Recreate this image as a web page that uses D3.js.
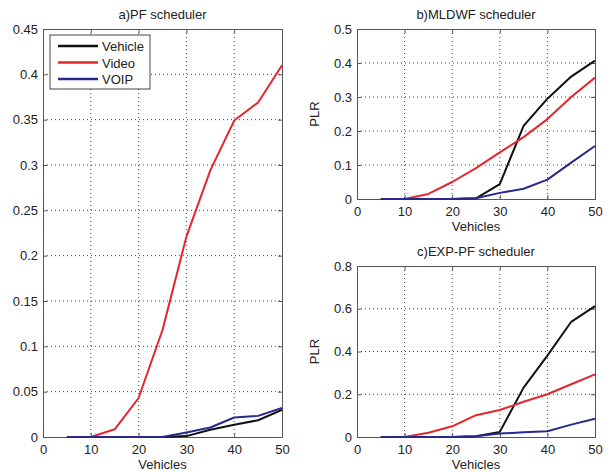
<!DOCTYPE html>
<html>
<head>
<meta charset="utf-8">
<script src="https://cdn.jsdelivr.net/npm/d3@7"></script>
<style>
  body { margin: 0; background: #fff; }
  text { font-family: "Liberation Sans", Arial, sans-serif; fill: #222; }
</style>
</head>
<body>
<svg id="chart" width="611" height="472"></svg>
<script>
// vehicles on the x axis
const vehicles = [5, 10, 15, 20, 25, 30, 35, 40, 45, 50];
const seriesNames = ['Vehicle', 'Video', 'VOIP'];
const seriesColors = ['#111111', '#e3262c', '#28288e'];

// a) PF scheduler
const pfVehicle = [0, 0, 0, 0, 0, 0.001, 0.008, 0.0135, 0.0185, 0.030];
const pfVideo = [0, 0, 0.0085, 0.043, 0.118, 0.221, 0.294, 0.349, 0.369, 0.41];
const pfVoip = [0, 0, 0, 0, 0, 0.005, 0.0105, 0.0215, 0.0233, 0.032];
const pfTicks = [0, 0.05, 0.1, 0.15, 0.2, 0.25, 0.3, 0.35, 0.4, 0.45];

// b) MLDWF scheduler
const mlVehicle = [0, 0, 0, 0, 0.002, 0.044, 0.215, 0.295, 0.36, 0.407];
const mlVideo = [0, 0, 0.015, 0.05, 0.091, 0.137, 0.182, 0.235, 0.3, 0.357];
const mlVoip = [0, 0, 0, 0, 0.002, 0.018, 0.03, 0.057, 0.107, 0.156];
const mlTicks = [0, 0.1, 0.2, 0.3, 0.4, 0.5];

// c) EXP-PF scheduler
const expVehicle = [0, 0, 0, 0, 0.004, 0.024, 0.231, 0.381, 0.539, 0.612];
const expVideo = [0, 0, 0.02, 0.05, 0.102, 0.126, 0.165, 0.2, 0.247, 0.293];
const expVoip = [0, 0, 0, 0, 0.004, 0.016, 0.022, 0.027, 0.058, 0.085];
const expTicks = [0, 0.2, 0.4, 0.6, 0.8];

const xTicks = [0, 10, 20, 30, 40, 50];

const svg = d3.select('#chart');

function drawPanel(opts) {
    const { left, right, top, bottom, yMax, yTicks, series, title, yLabel, legend } = opts;
    const x = d3.scaleLinear().domain([0, 50]).range([left, right]);
    const y = d3.scaleLinear().domain([0, yMax]).range([bottom, top]);
    const g = svg.append('g');

    // dotted grid
    g.selectAll('.gx')
        .data(xTicks.slice(1, -1))
        .enter()
        .append('line')
        .attr('x1', (d) => x(d)).attr('x2', (d) => x(d))
        .attr('y1', top).attr('y2', bottom)
        .attr('stroke', '#444').attr('stroke-width', 1).attr('stroke-dasharray', '1,3');
    g.selectAll('.gy')
        .data(yTicks.slice(1, -1))
        .enter()
        .append('line')
        .attr('x1', left).attr('x2', right)
        .attr('y1', (d) => y(d)).attr('y2', (d) => y(d))
        .attr('stroke', '#444').attr('stroke-width', 1).attr('stroke-dasharray', '1,3');

    // axes (ticks inside, like matlab)
    const xAxis = g.append('g')
        .attr('transform', `translate(0,${bottom})`)
        .call(d3.axisBottom(x).tickValues(xTicks).tickSize(-4).tickPadding(8).tickFormat(d3.format('d')));
    const yAxis = g.append('g')
        .attr('transform', `translate(${left},0)`)
        .call(d3.axisLeft(y).tickValues(yTicks).tickSize(-4).tickPadding(5).tickFormat((d) => d3.format('~g')(+d.toFixed(2))));
    g.append('g')
        .attr('transform', `translate(0,${top})`)
        .call(d3.axisTop(x).tickValues(xTicks).tickSize(-4).tickFormat(''));
    g.append('g')
        .attr('transform', `translate(${right},0)`)
        .call(d3.axisRight(y).tickValues(yTicks).tickSize(-4).tickFormat(''));
    g.selectAll('.domain').attr('stroke', '#555');
    g.selectAll('.tick line').attr('stroke', '#555');
    g.selectAll('.tick text').style('font-size', '13px').attr('fill', '#222');

    const line = d3.line()
        .x((d, i) => x(vehicles[i]))
        .y((d) => y(d));

    series.forEach((s, i) => {
        g.append('path')
            .datum(s)
            .attr('fill', 'none')
            .attr('stroke', seriesColors[i])
            .attr('stroke-width', 2)
            .attr('stroke-linejoin', 'round')
            .attr('d', line);
    });

    g.append('text')
        .attr('x', (left + right) / 2)
        .attr('y', top - 10)
        .attr('text-anchor', 'middle')
        .style('font-size', '13px')
        .text(title);

    g.append('text')
        .attr('x', (left + right) / 2)
        .attr('y', bottom + 32)
        .attr('text-anchor', 'middle')
        .style('font-size', '13px')
        .text('Vehicles');

    if (yLabel) {
        g.append('text')
            .attr('transform', `translate(${left - 38},${(top + bottom) / 2}) rotate(-90)`)
            .attr('text-anchor', 'middle')
            .style('font-size', '13px')
            .text(yLabel);
    }

    if (legend) {
        const lg = g.append('g');
        lg.append('rect')
            .attr('x', 50).attr('y', 35).attr('width', 100).attr('height', 54)
            .attr('fill', '#fff').attr('stroke', '#444').attr('stroke-width', 1);
        seriesNames.forEach((name, i) => {
            const yy = 46 + i * 16.5;
            lg.append('line')
                .attr('x1', 58).attr('x2', 98)
                .attr('y1', yy).attr('y2', yy)
                .attr('stroke', seriesColors[i]).attr('stroke-width', 2.5);
            lg.append('text')
                .attr('x', 102).attr('y', yy + 5)
                .style('font-size', '13px')
                .text(name);
        });
    }
}

drawPanel({
    left: 43, right: 282, top: 29, bottom: 437, yMax: 0.45, yTicks: pfTicks,
    series: [pfVehicle, pfVideo, pfVoip], title: 'a)PF scheduler', legend: true
});
drawPanel({
    left: 357, right: 595, top: 29, bottom: 199, yMax: 0.5, yTicks: mlTicks,
    series: [mlVehicle, mlVideo, mlVoip], title: 'b)MLDWF scheduler', yLabel: 'PLR'
});
drawPanel({
    left: 357, right: 595, top: 266, bottom: 437, yMax: 0.8, yTicks: expTicks,
    series: [expVehicle, expVideo, expVoip], title: 'c)EXP-PF scheduler', yLabel: 'PLR'
});
</script>
</body>
</html>
